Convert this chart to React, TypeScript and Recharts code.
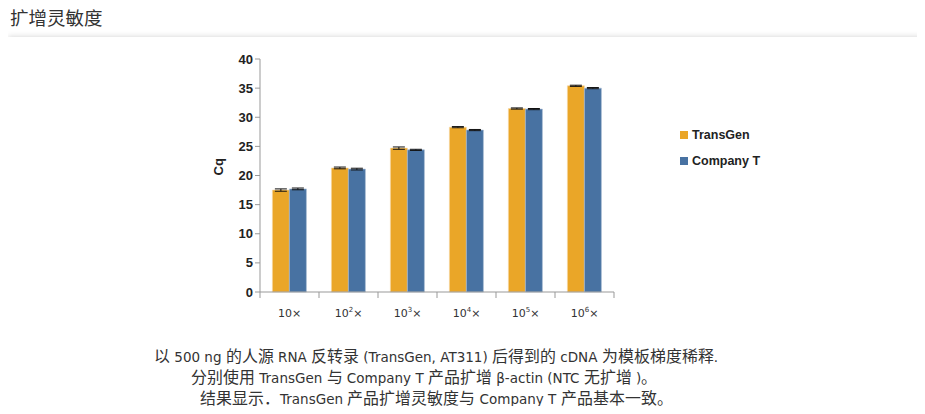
import { Bar, BarChart, ErrorBar, XAxis, YAxis } from "recharts";

const dilutions = ["10", "10²", "10³", "10⁴", "10⁵", "10⁶"];
const dilutionExp = ["", "2", "3", "4", "5", "6"];
const transGen = [17.5, 21.3, 24.7, 28.3, 31.5, 35.4];
const companyT = [17.7, 21.1, 24.4, 27.8, 31.4, 35.0];
const transGenErr = [0.2, 0.15, 0.2, 0.1, 0.1, 0.1];
const companyTErr = [0.15, 0.15, 0.1, 0.1, 0.1, 0.1];
const yTicks = [0, 5, 10, 15, 20, 25, 30, 35, 40];

const ORANGE = "#EAA628";
const BLUE = "#4872A2";

const data = dilutions.map((d, i) => ({
  name: d,
  transGen: transGen[i],
  companyT: companyT[i],
  transGenErr: transGenErr[i],
  companyTErr: companyTErr[i],
}));

const CHART_W = 925;
const MARGIN = { top: 59, right: 311, left: 200, bottom: 18 };
const Y_W = 60;
const plotW = CHART_W - MARGIN.left - Y_W - MARGIN.right;
const band = plotW / dilutions.length;

// CJK glyphs in the caption are drawn larger than the latin text
const fontCss = `
@font-face {
  font-family: "CaptionCJK";
  src: local("Noto Sans CJK SC"), local("Noto Sans CJK SC Regular"), local("NotoSansCJKsc-Regular");
  size-adjust: 118%;
}
`;

const XTick = (props: any) => {
  const { x, y, index } = props;
  const exp = dilutionExp[index];
  const isLast = index === dilutions.length - 1;
  return (
    <g>
      <line x1={x - band / 2} x2={x - band / 2} y1={y - 8} y2={y - 2} stroke="#999" />
      {isLast && (
        <line x1={x + band / 2} x2={x + band / 2} y1={y - 8} y2={y - 2} stroke="#999" />
      )}
      <text
        x={x}
        y={y + 17}
        textAnchor="middle"
        fontSize={11}
        fill="#333"
        fontFamily="'DejaVu Sans', sans-serif"
      >
        10
        {exp && (
          <tspan fontSize={7} dy={-5}>
            {exp}
          </tspan>
        )}
        <tspan dy={exp ? 5 : 0}>×</tspan>
      </text>
    </g>
  );
};

const legendItems = [
  { label: "TransGen", color: ORANGE },
  { label: "Company T", color: BLUE },
];

export default function App() {
  return (
    <div style={{ position: "relative", width: 925, height: 414, margin: -8, background: "#fff", overflow: "hidden" }}>
      <style>{fontCss}</style>
      <div
        style={{
          position: "absolute",
          left: 10,
          top: 4,
          fontSize: 18.5,
          color: "#333",
          fontFamily: "'Noto Sans CJK SC', sans-serif",
        }}
      >
        扩增灵敏度
      </div>
      <div
        style={{
          position: "absolute",
          left: 8,
          top: 37,
          width: 940,
          height: 400,
          background: "#fff",
          boxShadow: "0 0 6px rgba(0,0,0,0.18)",
        }}
      />
      <div style={{ position: "absolute", left: 0, top: 0 }}>
        <BarChart
          width={CHART_W}
          height={340}
          data={data}
          margin={MARGIN}
          barCategoryGap="21%"
          barGap={0}
        >
          <YAxis
            width={Y_W}
            domain={[0, 40]}
            ticks={yTicks}
            interval={0}
            tickSize={5}
            stroke="#999"
            tick={{ fill: "#222", fontSize: 13, fontWeight: 700, fontFamily: "'Liberation Sans', Arial, sans-serif" }}
            label={{
              value: "Cq",
              angle: -90,
              position: "insideLeft",
              offset: 18,
              style: { fill: "#222", fontSize: 13, fontWeight: 700, fontFamily: "'Liberation Sans', Arial, sans-serif" },
            }}
          />
          <XAxis
            dataKey="name"
            height={30}
            stroke="#999"
            tickLine={false}
            interval={0}
            tick={<XTick />}
          />
          <Bar dataKey="transGen" name="TransGen" fill={ORANGE} stroke="#F6D9A8" strokeWidth={0.6} isAnimationActive={false}>
            <ErrorBar dataKey="transGenErr" width={6} stroke="#111" strokeWidth={1} direction="y" />
          </Bar>
          <Bar dataKey="companyT" name="Company T" fill={BLUE} stroke="#A9BCD3" strokeWidth={0.6} isAnimationActive={false}>
            <ErrorBar dataKey="companyTErr" width={6} stroke="#111" strokeWidth={1} direction="y" />
          </Bar>
        </BarChart>
      </div>
      <div
        style={{
          position: "absolute",
          left: 680,
          top: 122,
          fontFamily: "'Liberation Sans', Arial, sans-serif",
          fontSize: 12.5,
          fontWeight: 700,
          color: "#222",
        }}
      >
        {legendItems.map((s) => (
          <div key={s.label} style={{ display: "flex", alignItems: "center", height: 26 }}>
            <span style={{ width: 8, height: 8, background: s.color, marginRight: 4 }} />
            {s.label}
          </div>
        ))}
      </div>
      <div
        style={{
          position: "absolute",
          left: 0,
          top: 347,
          width: 925,
          fontSize: 13.5,
          color: "#333",
          lineHeight: "21px",
          fontFamily: "'DejaVu Sans', 'CaptionCJK', 'Noto Sans CJK SC', sans-serif",
        }}
      >
        <div style={{ paddingLeft: 154, whiteSpace: "nowrap" }}>
          以 500 ng 的人源 RNA 反转录 (TransGen, AT311) 后得到的 cDNA 为模板梯度稀释.
        </div>
        <div style={{ paddingLeft: 191, whiteSpace: "nowrap" }}>
          分别使用 TransGen 与 Company T 产品扩增 β-actin (NTC 无扩增 )。
        </div>
        <div style={{ paddingLeft: 200, whiteSpace: "nowrap" }}>
          结果显示．TransGen 产品扩增灵敏度与 Company T 产品基本一致。
        </div>
      </div>
    </div>
  );
}
